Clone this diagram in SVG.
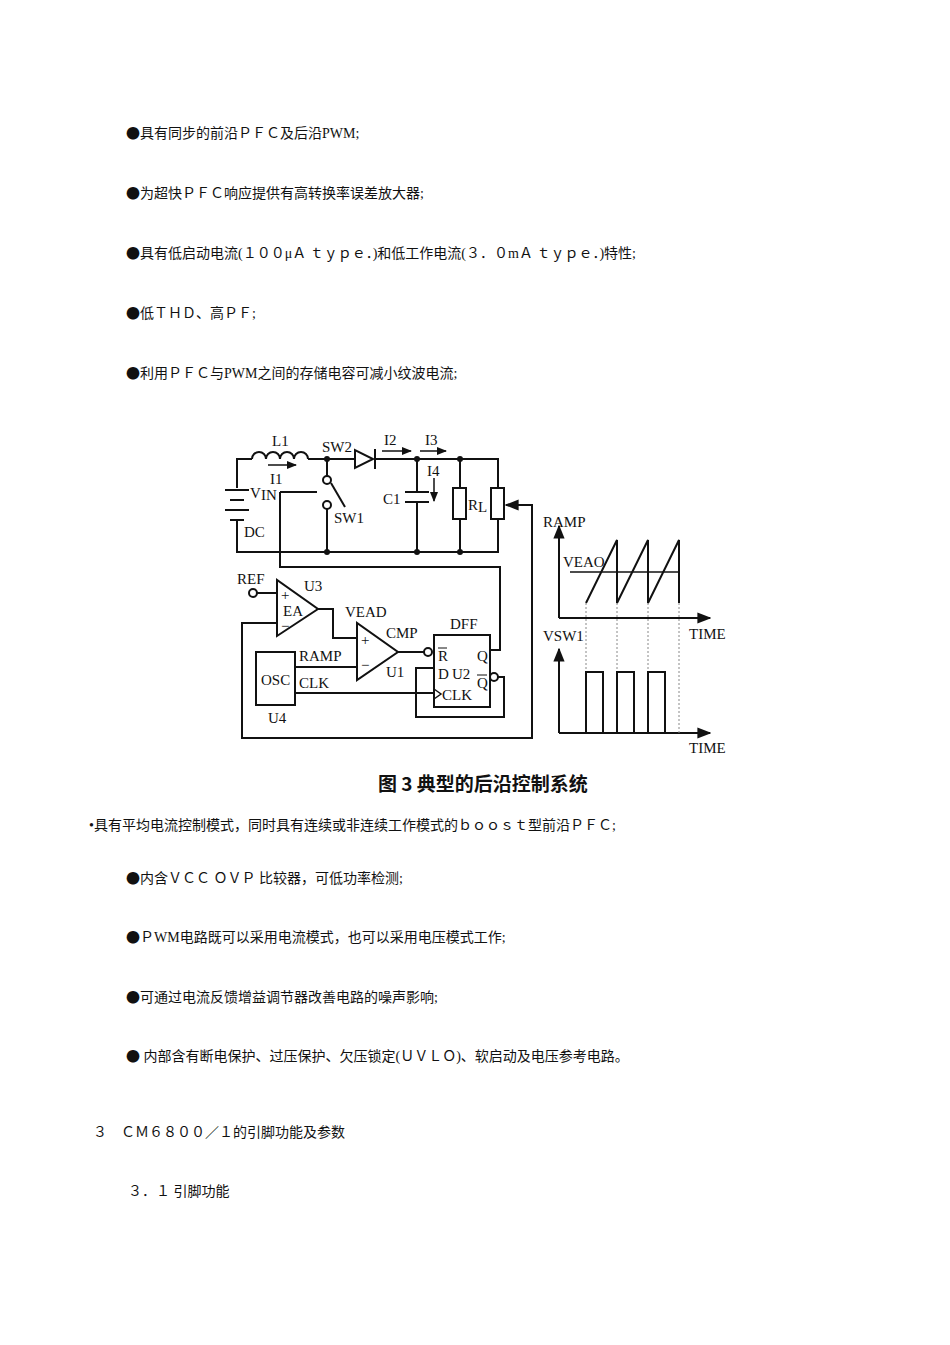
<svg xmlns="http://www.w3.org/2000/svg" width="950" height="1345" viewBox="0 0 950 1345">
<style>
.t{font-family:"Liberation Serif","Noto Sans CJK SC",serif;font-size:14px;fill:#111}
.b{font-family:"Noto Sans CJK SC",sans-serif}
.l{font-family:"Liberation Serif",serif;font-size:15px;fill:#111}
.w{fill:none;stroke:#111;stroke-width:2}
.d{fill:none;stroke:#888;stroke-width:1;stroke-dasharray:2 2}
</style>
<defs>
<marker id="a" viewBox="0 0 10 10" refX="9" refY="5" markerWidth="7" markerHeight="7" orient="auto"><path d="M0,1 L10,5 L0,9 Z" fill="#111"/></marker>
</defs>
<rect width="950" height="1345" fill="#fff"/>
<g id="text">
<text class="t" x="126" y="138"><tspan class="b">●</tspan>具有同步的前沿ＰＦＣ及后沿PWM;</text>
<text class="t" x="126" y="198"><tspan class="b">●</tspan>为超快ＰＦＣ响应提供有高转换率误差放大器;</text>
<text class="t" x="126" y="258"><tspan class="b">●</tspan>具有低启动电流(１００μＡ ｔｙｐｅ．)和低工作电流(３．０mＡ ｔｙｐｅ．)特性;</text>
<text class="t" x="126" y="318"><tspan class="b">●</tspan>低ＴＨＤ、高ＰＦ;</text>
<text class="t" x="126" y="378"><tspan class="b">●</tspan>利用ＰＦＣ与PWM之间的存储电容可减小纹波电流;</text>
<text class="t" x="89" y="830">•具有平均电流控制模式，同时具有连续或非连续工作模式的ｂｏｏｓｔ型前沿ＰＦＣ;</text>
<text class="t" x="126" y="883"><tspan class="b">●</tspan>内含ＶＣＣ ＯＶＰ 比较器，可低功率检测;</text>
<text class="t" x="126" y="942"><tspan class="b">●</tspan>ＰWM电路既可以采用电流模式，也可以采用电压模式工作;</text>
<text class="t" x="126" y="1002"><tspan class="b">●</tspan>可通过电流反馈增益调节器改善电路的噪声影响;</text>
<text class="t" x="126" y="1061"><tspan class="b">●</tspan> 内部含有断电保护、过压保护、欠压锁定(ＵＶＬＯ)、软启动及电压参考电路。</text>
<text class="t" x="93" y="1137">３　ＣＭ６８００／１的引脚功能及参数</text>
<text class="t" x="128" y="1196">３．１ 引脚功能</text>
<text x="378" y="791" font-family="Noto Sans CJK SC,sans-serif" font-size="19" font-weight="bold" fill="#111">图 3  典型的后沿控制系统</text>
</g>
<g id="connectors">
<path class="w" d="M237,488 V459 H252 M308,459 H355 M375,459 H498 V488 M498,519 V552 H237 V521"/>
<path class="w" d="M252,459 a7,7 0 0 1 14,0 a7,7 0 0 1 14,0 a7,7 0 0 1 14,0 a7,7 0 0 1 14,0"/>
<path class="w" d="M327,459 V476 M327,509 V552 M417,459 V492 M417,502 V552 M460,459 V488 M460,519 V552"/>
<path class="w" d="M280,492 H317 M280,492 V567 H500 V650 H490"/>
<path class="w" d="M525,505 H532 V738 H242 V623 H277"/>
<path class="w" d="M257,593 H277 M318,609 H333 V638 H357 M398,652 H424 M295,667 H357 M295,693 H434 M497,677 H504 V717 H416 V668 H434"/>
</g>
<g id="battery" class="w">
<line x1="225" y1="490" x2="249" y2="490"/><line x1="230" y1="500" x2="244" y2="500"/>
<line x1="225" y1="510" x2="249" y2="510"/><line x1="230" y1="520" x2="244" y2="520"/>
</g>
<g id="labels-top">
<text class="l" x="272" y="446">L1</text>
<line x1="268" y1="465" x2="296" y2="465" stroke="#111" stroke-width="1.5" marker-end="url(#a)"/>
<text class="l" x="270" y="484">I1</text>
<text class="l" x="250" y="498">V</text><text class="l" x="261" y="500" font-size="11">IN</text>
<text class="l" x="244" y="537">DC</text>
<text class="l" x="322" y="452">SW2</text>
<text class="l" x="334" y="523">SW1</text>
<text class="l" x="384" y="445">I2</text>
<line x1="382" y1="451" x2="411" y2="451" stroke="#111" stroke-width="1.5" marker-end="url(#a)"/>
<text class="l" x="425" y="445">I3</text>
<line x1="420" y1="451" x2="446" y2="451" stroke="#111" stroke-width="1.5" marker-end="url(#a)"/>
<text class="l" x="427" y="476">I4</text>
<line x1="434" y1="478" x2="434" y2="501" stroke="#111" stroke-width="1.5" marker-end="url(#a)"/>
<text class="l" x="383" y="504">C1</text>
<text class="l" x="468" y="510">R</text><text class="l" x="478" y="512" font-size="10">L</text>
</g>
<g id="sw1"><circle cx="327" cy="480" r="4" class="w"/><circle cx="327" cy="505" r="4" class="w"/><line x1="331" y1="483" x2="345" y2="507" class="w"/></g>
<g id="diode"><path d="M355,450 V468 L373,459 Z" class="w"/><line x1="375" y1="449" x2="375" y2="469" class="w"/></g>
<g id="c1" class="w"><line x1="405" y1="492" x2="429" y2="492"/><line x1="405" y1="502" x2="429" y2="502"/></g>
<g id="rl"><rect x="453" y="488" width="13" height="31" class="w"/></g>
<g id="pot"><rect x="491" y="488" width="13" height="31" class="w"/><line x1="525" y1="505" x2="506" y2="505" stroke="#111" stroke-width="2" marker-end="url(#a)"/></g>
<g fill="#111"><circle cx="327" cy="459" r="3"/><circle cx="417" cy="459" r="3"/><circle cx="460" cy="459" r="3"/><circle cx="327" cy="552" r="3"/><circle cx="417" cy="552" r="3"/><circle cx="460" cy="552" r="3"/></g>
<g id="ref"><circle cx="253" cy="593" r="4" class="w"/><text class="l" x="237" y="584">REF</text></g>
<g id="u3"><path d="M277,580 V636 L318,609 Z" class="w"/><text class="l" x="281" y="600">+</text><text class="l" x="283" y="616">EA</text><text class="l" x="281" y="631">−</text><text class="l" x="304" y="591">U3</text></g>
<g id="u1"><path d="M357,623 V680 L398,652 Z" class="w"/><text class="l" x="361" y="645">+</text><text class="l" x="361" y="670">−</text><text class="l" x="345" y="617">VEAD</text><text class="l" x="386" y="638">CMP</text><text class="l" x="386" y="677">U1</text></g>
<g id="u2"><rect x="434" y="635" width="56" height="72" class="w"/><circle cx="428" cy="652" r="4" class="w"/><circle cx="494" cy="677" r="4" class="w"/>
<text class="l" x="450" y="629">DFF</text><text class="l" x="438" y="661">R</text><line x1="438" y1="648" x2="447" y2="648" stroke="#111"/>
<text class="l" x="477" y="661">Q</text><text class="l" x="438" y="679">D</text><text class="l" x="452" y="679">U2</text>
<text class="l" x="477" y="688">Q</text><line x1="477" y1="675" x2="487" y2="675" stroke="#111"/>
<path d="M434,689 L441,694 L434,699" fill="none" stroke="#111" stroke-width="1.5"/><text class="l" x="442" y="700">CLK</text></g>
<g id="u4"><rect x="256" y="652" width="39" height="53" class="w"/><text class="l" x="261" y="685">OSC</text><text class="l" x="268" y="723">U4</text>
<text class="l" x="299" y="661">RAMP</text><text class="l" x="299" y="688">CLK</text></g>
<g id="waves">
<line x1="559" y1="618" x2="559" y2="526" class="w" marker-end="url(#a)"/>
<line x1="559" y1="618" x2="710" y2="618" class="w" marker-end="url(#a)"/>
<line x1="559" y1="733" x2="559" y2="649" class="w" marker-end="url(#a)"/>
<line x1="559" y1="733" x2="710" y2="733" class="w" marker-end="url(#a)"/>
<text class="l" x="543" y="527">RAMP</text><text class="l" x="689" y="639">TIME</text>
<text class="l" x="543" y="641">VSW1</text><text class="l" x="689" y="753">TIME</text>
<text class="l" x="563" y="567">VEAO</text>
<line x1="570" y1="572" x2="679" y2="572" stroke="#111" stroke-width="1.5"/>
<path class="w" d="M586,603 L617,540 V603 L648,540 V603 L679,540 V603"/>
<path class="d" d="M586,603 V733 M617,603 V733 M648,603 V733 M679,603 V733"/>
<path class="w" d="M586,733 V672 H603 V733 M617,733 V672 H634 V733 M648,733 V672 H665 V733"/>
</g>
</svg>
